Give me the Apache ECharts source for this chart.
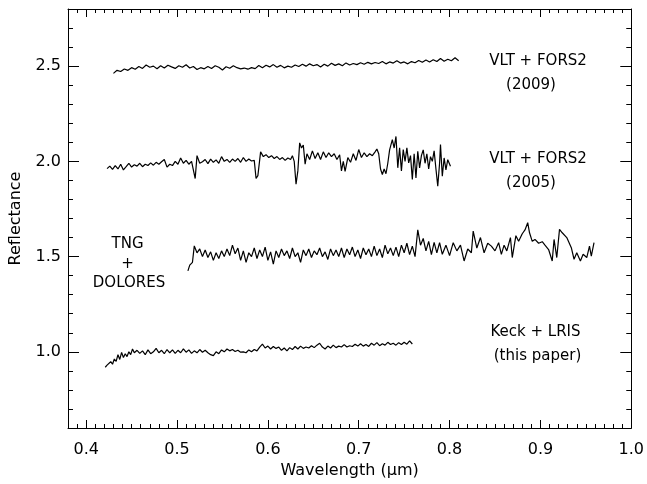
<!DOCTYPE html>
<html>
<head>
<meta charset="utf-8">
<script src="https://cdn.jsdelivr.net/npm/echarts@6/dist/echarts.min.js"></script>
<style>
html,body{margin:0;padding:0;background:#fff;}
#chart{width:647px;height:484px;}
</style>
</head>
<body>
<div id="chart"></div>
<script>
const xTickLabels = [0.4, 0.5, 0.6, 0.7, 0.8, 0.9, 1.0];
const yTickLabels = [1.0, 1.5, 2.0, 2.5];

const vlt2009 = [
[0.430,2.462],[0.434,2.478],[0.438,2.472],[0.442,2.485],[0.446,2.478],[0.450,2.492],[0.454,2.484],[0.458,2.498],
[0.462,2.488],[0.466,2.506],[0.470,2.494],[0.474,2.500],[0.478,2.486],[0.482,2.502],[0.486,2.490],[0.490,2.505],
[0.494,2.496],[0.498,2.488],[0.502,2.502],[0.506,2.494],[0.510,2.507],[0.514,2.490],[0.518,2.498],[0.522,2.482],
[0.526,2.492],[0.530,2.486],[0.534,2.498],[0.538,2.488],[0.542,2.502],[0.546,2.494],[0.550,2.480],[0.554,2.497],
[0.558,2.489],[0.562,2.502],[0.566,2.492],[0.570,2.486],[0.574,2.490],[0.578,2.484],[0.582,2.492],[0.586,2.487],
[0.590,2.503],[0.594,2.492],[0.598,2.505],[0.602,2.496],[0.606,2.508],[0.610,2.494],[0.614,2.504],[0.618,2.491],
[0.622,2.500],[0.626,2.494],[0.630,2.506],[0.634,2.498],[0.638,2.510],[0.642,2.500],[0.646,2.512],[0.650,2.502],
[0.654,2.508],[0.658,2.496],[0.662,2.510],[0.666,2.500],[0.670,2.515],[0.674,2.504],[0.678,2.512],[0.682,2.502],
[0.686,2.517],[0.690,2.506],[0.694,2.514],[0.698,2.508],[0.702,2.518],[0.706,2.510],[0.710,2.520],[0.714,2.512],
[0.718,2.519],[0.722,2.514],[0.726,2.524],[0.730,2.512],[0.734,2.522],[0.738,2.516],[0.742,2.528],[0.746,2.516],
[0.750,2.522],[0.754,2.512],[0.758,2.524],[0.762,2.518],[0.766,2.530],[0.770,2.520],[0.774,2.532],[0.778,2.522],
[0.782,2.534],[0.786,2.524],[0.790,2.540],[0.794,2.526],[0.798,2.536],[0.802,2.528],[0.806,2.544],[0.810,2.528]
];

const vlt2005 = [
[0.423,1.962],[0.426,1.975],[0.429,1.958],[0.432,1.978],[0.435,1.960],[0.438,1.985],[0.441,1.955],[0.444,1.972],
[0.447,1.990],[0.450,1.970],[0.453,1.982],[0.456,1.975],[0.459,1.990],[0.462,1.972],[0.465,1.985],[0.468,1.978],
[0.471,1.992],[0.474,1.980],[0.477,1.995],[0.480,1.985],[0.483,1.998],[0.486,2.010],[0.489,1.970],[0.492,1.985],
[0.495,1.978],[0.498,2.000],[0.501,1.985],[0.504,2.018],[0.507,1.990],[0.510,2.005],[0.513,1.985],[0.516,2.000],
[0.518,1.990],[0.520,1.910],[0.522,2.030],[0.525,1.990],[0.528,1.998],[0.531,2.010],[0.534,1.988],[0.537,2.012],
[0.540,1.995],[0.543,2.008],[0.546,1.990],[0.549,2.025],[0.552,2.000],[0.555,2.010],[0.558,1.995],[0.561,2.012],
[0.564,2.000],[0.567,2.015],[0.570,1.995],[0.573,2.020],[0.576,2.000],[0.579,2.012],[0.582,2.002],[0.585,2.005],
[0.587,1.910],[0.589,1.925],[0.592,2.050],[0.595,2.025],[0.598,2.035],[0.601,2.020],[0.604,2.030],[0.607,2.015],
[0.610,2.025],[0.613,2.010],[0.616,2.020],[0.619,2.005],[0.622,2.018],[0.625,2.010],[0.627,2.030],[0.629,2.000],
[0.631,1.880],[0.633,1.950],[0.635,2.097],[0.637,2.070],[0.639,2.085],[0.641,1.985],[0.643,2.040],[0.646,2.010],
[0.649,2.055],[0.652,2.015],[0.655,2.045],[0.658,2.010],[0.661,2.050],[0.664,2.020],[0.667,2.045],[0.670,2.025],
[0.673,2.040],[0.676,2.010],[0.679,2.035],[0.681,1.950],[0.683,2.000],[0.685,1.948],[0.688,2.020],[0.691,1.995],
[0.694,2.040],[0.697,2.005],[0.700,2.062],[0.703,2.020],[0.706,2.045],[0.709,2.025],[0.712,2.040],[0.715,2.030],
[0.718,2.050],[0.720,2.065],[0.722,2.040],[0.724,1.960],[0.726,1.931],[0.728,1.960],[0.730,1.935],[0.732,1.990],
[0.734,2.060],[0.737,2.114],[0.739,2.070],[0.741,2.131],[0.743,1.966],[0.745,2.071],[0.747,1.950],[0.749,2.062],
[0.751,2.000],[0.753,2.071],[0.755,1.992],[0.757,2.030],[0.759,1.905],[0.761,2.040],[0.763,1.913],[0.765,2.053],
[0.767,1.966],[0.769,2.030],[0.771,2.060],[0.773,1.990],[0.775,2.040],[0.777,1.960],[0.779,2.025],[0.781,2.000],
[0.783,2.055],[0.785,1.960],[0.787,1.870],[0.789,1.990],[0.790,2.088],[0.792,1.922],[0.794,2.018],[0.796,1.955],
[0.798,2.009],[0.801,1.974]
];

const tngDolores = [
[0.512,1.425],[0.514,1.455],[0.517,1.470],[0.519,1.556],[0.522,1.520],[0.525,1.540],[0.528,1.500],[0.531,1.535],
[0.534,1.495],[0.537,1.525],[0.540,1.480],[0.543,1.520],[0.546,1.490],[0.549,1.530],[0.552,1.500],[0.555,1.540],
[0.558,1.505],[0.561,1.560],[0.564,1.515],[0.567,1.545],[0.570,1.480],[0.573,1.530],[0.576,1.470],[0.579,1.520],
[0.582,1.500],[0.585,1.545],[0.588,1.490],[0.591,1.535],[0.594,1.500],[0.597,1.550],[0.600,1.480],[0.603,1.525],
[0.606,1.460],[0.609,1.530],[0.612,1.495],[0.615,1.540],[0.618,1.505],[0.621,1.530],[0.624,1.490],[0.627,1.545],
[0.630,1.500],[0.633,1.520],[0.636,1.470],[0.639,1.535],[0.642,1.505],[0.645,1.540],[0.648,1.495],[0.651,1.530],
[0.654,1.510],[0.657,1.545],[0.660,1.500],[0.663,1.525],[0.666,1.485],[0.669,1.540],[0.672,1.505],[0.675,1.535],
[0.678,1.500],[0.681,1.545],[0.684,1.495],[0.687,1.540],[0.690,1.510],[0.693,1.550],[0.696,1.500],[0.699,1.535],
[0.702,1.490],[0.705,1.545],[0.708,1.510],[0.711,1.540],[0.714,1.500],[0.717,1.555],[0.720,1.505],[0.723,1.540],
[0.726,1.495],[0.729,1.560],[0.732,1.515],[0.735,1.545],[0.738,1.505],[0.741,1.550],[0.744,1.500],[0.747,1.560],
[0.750,1.520],[0.753,1.570],[0.756,1.510],[0.759,1.555],[0.762,1.500],[0.765,1.640],[0.768,1.560],[0.771,1.595],
[0.774,1.530],[0.777,1.580],[0.780,1.510],[0.783,1.575],[0.786,1.520],[0.789,1.573],[0.792,1.512],[0.796,1.560],
[0.800,1.505],[0.804,1.573],[0.808,1.530],[0.812,1.560],[0.816,1.477],[0.820,1.540],[0.824,1.520],[0.826,1.634],
[0.830,1.545],[0.834,1.600],[0.838,1.520],[0.842,1.570],[0.846,1.555],[0.850,1.530],[0.854,1.573],[0.857,1.512],
[0.860,1.560],[0.863,1.530],[0.867,1.600],[0.869,1.495],[0.873,1.610],[0.876,1.580],[0.880,1.620],[0.883,1.640],
[0.886,1.678],[0.888,1.625],[0.891,1.580],[0.894,1.590],[0.898,1.570],[0.902,1.578],[0.905,1.560],[0.909,1.537],
[0.913,1.477],[0.915,1.590],[0.918,1.495],[0.921,1.643],[0.924,1.625],[0.929,1.600],[0.934,1.547],[0.937,1.486],
[0.940,1.520],[0.944,1.477],[0.947,1.512],[0.951,1.495],[0.954,1.555],[0.956,1.503],[0.959,1.573]
];

const keckLris = [
[0.421,0.919],[0.423,0.930],[0.425,0.925],[0.427,0.948],[0.429,0.935],[0.431,0.962],[0.433,0.950],[0.435,0.985],
[0.437,0.960],[0.439,0.997],[0.441,0.970],[0.443,0.990],[0.445,0.975],[0.447,1.000],[0.449,0.985],[0.451,1.015],
[0.453,0.995],[0.456,1.008],[0.459,0.992],[0.462,1.005],[0.465,0.985],[0.468,1.010],[0.471,0.990],[0.474,1.000],
[0.477,1.018],[0.480,0.995],[0.483,1.008],[0.486,0.990],[0.489,1.012],[0.492,0.995],[0.495,1.010],[0.498,0.992],
[0.501,1.008],[0.504,0.995],[0.507,1.015],[0.510,0.998],[0.513,1.010],[0.516,0.992],[0.519,1.005],[0.522,0.995],
[0.525,1.012],[0.528,0.998],[0.531,1.008],[0.534,0.995],[0.537,0.985],[0.540,0.980],[0.543,1.000],[0.546,0.990],
[0.549,1.010],[0.552,1.000],[0.555,1.015],[0.558,1.005],[0.561,1.012],[0.564,1.002],[0.567,1.008],[0.570,0.998],
[0.573,1.000],[0.576,0.995],[0.579,1.010],[0.582,1.000],[0.585,1.012],[0.588,1.005],[0.591,1.025],[0.594,1.040],
[0.597,1.020],[0.600,1.030],[0.603,1.015],[0.606,1.028],[0.609,1.018],[0.612,1.025],[0.615,1.008],[0.618,1.020],
[0.621,1.005],[0.624,1.022],[0.627,1.012],[0.630,1.028],[0.633,1.015],[0.636,1.030],[0.639,1.018],[0.642,1.025],
[0.645,1.020],[0.648,1.032],[0.651,1.022],[0.654,1.035],[0.657,1.045],[0.660,1.025],[0.663,1.015],[0.666,1.030],
[0.669,1.020],[0.672,1.035],[0.675,1.022],[0.678,1.030],[0.681,1.025],[0.684,1.038],[0.687,1.025],[0.690,1.032],
[0.693,1.028],[0.696,1.040],[0.699,1.030],[0.702,1.042],[0.705,1.030],[0.708,1.038],[0.711,1.028],[0.714,1.045],
[0.717,1.035],[0.720,1.048],[0.723,1.032],[0.726,1.042],[0.729,1.035],[0.732,1.050],[0.735,1.038],[0.738,1.045],
[0.741,1.035],[0.744,1.048],[0.747,1.038],[0.750,1.050],[0.753,1.040],[0.756,1.058],[0.759,1.041]
];

const FONT = 'DejaVu Sans';
const chart = echarts.init(document.getElementById('chart'), null, {renderer: 'canvas'});
const blackLine = {show: true, lineStyle: {color: '#000', width: 1}};
const X_MIN = 0.38, X_MAX = 1.0, Y_MIN = 0.6, Y_MAX = 2.8;

function xAx(pos, major, withLabels) {
  const a = {
    type: 'value', position: pos, min: X_MIN, max: X_MAX,
    axisLine: major ? blackLine : {show: false},
    splitLine: {show: false},
    axisTick: {show: true, inside: true, length: major ? 8 : 4, lineStyle: {color: '#000', width: 1}},
    axisLabel: {show: false}
  };
  if (major) {
    a.axisTick.customValues = xTickLabels;
    if (withLabels) {
      a.axisLabel = {show: true, customValues: xTickLabels, formatter: v => v.toFixed(1),
        color: '#000', fontFamily: FONT, fontSize: 16, margin: 14};
      a.name = 'Wavelength (\u03BCm)';
      a.nameLocation = 'middle';
      a.nameGap = 32;
      a.nameTextStyle = {color: '#000', fontFamily: FONT, fontSize: 16, verticalAlign: 'top'};
    }
  } else {
    a.interval = 0.01;
  }
  return a;
}
function yAx(pos, major, withLabels) {
  const a = {
    type: 'value', position: pos, min: Y_MIN, max: Y_MAX,
    axisLine: major ? blackLine : {show: false},
    splitLine: {show: false},
    axisTick: {show: true, inside: true, length: major ? 11 : 5, lineStyle: {color: '#000', width: 1}},
    axisLabel: {show: false}
  };
  if (major) {
    a.axisTick.customValues = yTickLabels;
    if (withLabels) {
      a.axisLabel = {show: true, customValues: yTickLabels, formatter: v => v.toFixed(1),
        color: '#000', fontFamily: FONT, fontSize: 16, margin: 7};
      a.name = 'Reflectance';
      a.nameLocation = 'middle';
      a.nameGap = 44;
      a.nameRotate = 90;
      a.nameTextStyle = {color: '#000', fontFamily: FONT, fontSize: 16};
    }
  } else {
    a.interval = 0.1;
  }
  return a;
}

function spec(data) {
  return {type: 'line', data: data, xAxisIndex: 0, yAxisIndex: 0, showSymbol: false, symbol: 'none',
    lineStyle: {color: '#000', width: 1.2}, silent: true, z: 5};
}

function label(text, x, y) {
  return {type: 'text', x: x, y: y, style: {text: text, fill: '#000', font: '15px "DejaVu Sans"',
    align: 'center', verticalAlign: 'middle'}};
}

chart.setOption({
  animation: false,
  backgroundColor: '#fff',
  grid: {left: 68, right: 14, top: 9, bottom: 56, containLabel: false},
  xAxis: [xAx('bottom', true, true), xAx('bottom', false), xAx('top', true, false), xAx('top', false)],
  yAxis: [yAx('left', true, true), yAx('left', false), yAx('right', true, false), yAx('right', false)],
  series: [spec(vlt2009), spec(vlt2005), spec(tngDolores), spec(keckLris)],
  graphic: [
    label('VLT + FORS2', 538, 61), label('(2009)', 531, 85),
    label('VLT + FORS2', 538, 159), label('(2005)', 531, 183),
    label('TNG', 127.5, 244), label('+', 127.5, 264), label('DOLORES', 129, 283),
    label('Keck + LRIS', 535.5, 332), label('(this paper)', 537.5, 356)
  ]
});
</script>
</body>
</html>
